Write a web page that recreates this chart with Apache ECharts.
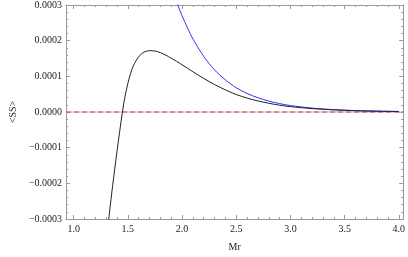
<!DOCTYPE html>
<html><head><meta charset="utf-8">
<script src="https://cdn.jsdelivr.net/npm/echarts@6/dist/echarts.min.js"></script>
<style>html,body{margin:0;padding:0;background:#fff}#c{width:408px;height:257px}</style>
</head><body><div id="c"></div>
<script>
// Black curve (x, <SS> in units of 1e-4)
const blackX = [1.30,1.33,1.36,1.40,1.45,1.475,1.50,1.525,1.55,1.60,1.65,1.70,1.75,1.80,1.85,1.90,1.95,2.00,2.10,2.20,2.30,2.40,2.50,2.60,2.70,2.80,2.90,3.00,3.20,3.40,3.60,3.80,4.00];
const blackY = [-3.68,-2.84,-2.06,-1.10,0.0,0.45,0.80,1.075,1.29,1.55,1.68,1.72,1.71,1.665,1.595,1.51,1.42,1.325,1.13,0.94,0.77,0.62,0.49,0.39,0.31,0.245,0.19,0.15,0.095,0.06,0.037,0.022,0.013];
// Blue curve
const blueX = [1.88,1.90,1.95,2.00,2.05,2.10,2.20,2.30,2.40,2.50,2.60,2.70,2.80,2.90,3.00,3.20,3.40,3.60,3.80,4.00];
const blueY = [3.7,3.5,3.08,2.70,2.36,2.05,1.56,1.18,0.90,0.68,0.52,0.40,0.305,0.235,0.18,0.11,0.065,0.04,0.025,0.015];
const yScale = 1e-4;
// Axes
const xMin = 0.93, xMax = 4.04;
const xMajor = [1.0,1.5,2.0,2.5,3.0,3.5,4.0];
const xMinor = [1.0,1.1,1.2,1.3,1.4,1.5,1.6,1.7,1.8,1.9,2.0,2.1,2.2,2.3,2.4,2.5,2.6,2.7,2.8,2.9,3.0,3.1,3.2,3.3,3.4,3.5,3.6,3.7,3.8,3.9,4.0];
const yMin = -0.0003, yMax = 0.0003;
const yMajor = [-0.0003,-0.0002,-0.0001,0,0.0001,0.0002,0.0003];
const yMinor = [-0.0003,-0.00028,-0.00026,-0.00024,-0.00022,-0.0002,-0.00018,-0.00016,-0.00014,-0.00012,-0.0001,-0.00008,-0.00006,-0.00004,-0.00002,0,0.00002,0.00004,0.00006,0.00008,0.0001,0.00012,0.00014,0.00016,0.00018,0.0002,0.00022,0.00024,0.00026,0.00028,0.0003];
const zeroX = [xMin, xMax];

const FONT = 'Liberation Serif';
const frameCol = '#9a9a9a';
function xAx(pos, major, labels) {
  return {
    type:'value', position:pos, min:xMin, max:xMax,
    axisLine:{show:major, onZero:false, lineStyle:{color:frameCol,width:1}},
    axisTick:{show:true, inside:true, length: major?4:2, customValues: major?xMajor:xMinor, lineStyle:{color:frameCol}},
    axisLabel:{show:labels, customValues:xMajor, formatter:v=>v.toFixed(1), fontFamily:FONT, fontSize:10, color:'#222', margin:5},
    splitLine:{show:false},
    name: labels?'Mr':'', nameLocation:'middle', nameGap:23,
    nameTextStyle:{fontFamily:FONT, fontSize:10, color:'#222'}
  };
}
function yAx(pos, major, labels) {
  return {
    type:'value', position:pos, min:yMin, max:yMax,
    axisLine:{show:major, onZero:false, lineStyle:{color:frameCol,width:1}},
    axisTick:{show:true, inside:true, length: major?4:2, customValues: major?yMajor:yMinor, lineStyle:{color:frameCol}},
    axisLabel:{show:labels, customValues:yMajor, formatter:v=>{ if (Math.abs(v)<1e-12) return '0.0000'; return (v<0?'\u2212':'')+Math.abs(v).toFixed(4);}, fontFamily:FONT, fontSize:10, color:'#222', margin:4},
    splitLine:{show:false},
    name: labels?'<SS>':'', nameLocation:'middle', nameGap:46, nameRotate:90,
    nameTextStyle:{fontFamily:FONT, fontSize:10, color:'#222'}
  };
}
const chart = echarts.init(document.getElementById('c'), null, {renderer:'canvas'});
chart.setOption({
  animation:false,
  backgroundColor:'#fff',
  grid:{left:57, right:2, top:5, bottom:34, containLabel:false},
  xAxis:[xAx('bottom',true,true), xAx('bottom',false,false), xAx('top',true,false), xAx('top',false,false)],
  yAxis:[yAx('left',true,true), yAx('left',false,false), yAx('right',true,false), yAx('right',false,false)],
  series:[
    {type:'line', data:zeroX.map(x=>[x,0]), showSymbol:false, lineStyle:{color:'#b8b8b8', width:1}, z:2},
    {type:'line', data:zeroX.map(x=>[x,0]), showSymbol:false, lineStyle:{color:'#d04040', width:1.2, type:[5,3]}, z:3},
    {type:'line', data:blueX.map((x,i)=>[x, blueY[i]*yScale]), showSymbol:false, smooth:0.3, lineStyle:{color:'#3030ff', width:1}, z:4},
    {type:'line', data:blackX.map((x,i)=>[x, blackY[i]*yScale]), showSymbol:false, smooth:0.3, lineStyle:{color:'#222', width:1}, z:5}
  ]
});
</script></body></html>
